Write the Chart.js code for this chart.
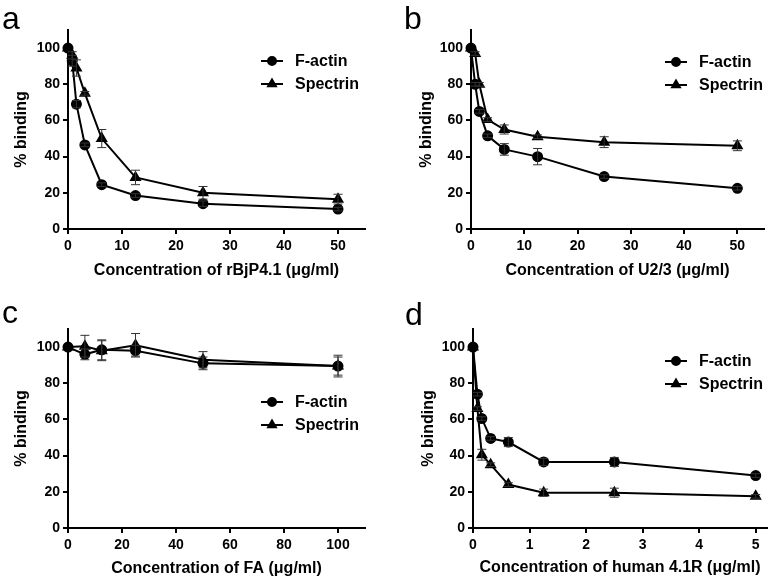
<!DOCTYPE html>
<html>
<head>
<meta charset="utf-8">
<script src="https://cdn.jsdelivr.net/npm/chart.js@4/dist/chart.umd.min.js"></script>
<style>
  body { margin: 0; background: #fff; }
  #wrap { position: relative; width: 774px; height: 580px; font-family: Arial, "Liberation Sans", sans-serif; }
  .panel { position: absolute; width: 387px; height: 290px; }
  .lbl { position: absolute; font-size: 32px; line-height: 32px; color: #000; }
</style>
</head>
<body>
<div id="wrap">
  <div class="panel" style="left:0;top:0"><canvas id="ga" width="387" height="290"></canvas></div>
  <div class="panel" style="left:387px;top:0"><canvas id="gb" width="387" height="290"></canvas></div>
  <div class="panel" style="left:0;top:290px"><canvas id="gc" width="387" height="290"></canvas></div>
  <div class="panel" style="left:387px;top:290px"><canvas id="gd" width="387" height="290"></canvas></div>
  <div class="lbl" style="left:2px;top:2px">a</div>
  <div class="lbl" style="left:404px;top:2px">b</div>
  <div class="lbl" style="left:2px;top:296px">c</div>
  <div class="lbl" style="left:405px;top:298px">d</div>
</div>
<script>
// panel a - rBjP4.1
var concA = [0, 0.78, 1.56, 3.125, 6.25, 12.5, 25, 50];
var actinA = [100, 93, 69, 46.5, 24.5, 18.5, 14, 11];
var actinErrA = [0, 3, 2, 1, 1, 1, 1.5, 1];
var spectrinA = [100, 96, 89, 75, 50, 28.5, 20, 16.5];
var spectrinErrA = [0, 2, 4.5, 1, 5, 4, 3.5, 2.7];

// panel b - U2/3
var concB = [0, 0.78, 1.56, 3.125, 6.25, 12.5, 25, 50];
var actinB = [100, 80, 65, 51.5, 44, 40, 29, 22.5];
var actinErrB = [0, 1, 1, 1, 3.2, 4.5, 1, 1];
var spectrinB = [100, 97, 80, 60.5, 55, 51, 48, 46];
var spectrinErrB = [0, 1, 1, 1, 2.5, 1, 3, 2.7];

// panel c - FA
var concC = [0, 6.25, 12.5, 25, 50, 100];
var actinC = [100, 96, 98.5, 98, 91, 89.5];
var actinErrC = [0, 3, 5.5, 3, 3.5, 5];
var spectrinC = [100, 100.5, 98, 101, 93, 89.5];
var spectrinErrC = [0, 6, 5.5, 6.5, 4.5, 6];

// panel d - human 4.1R
var concD = [0, 0.078, 0.156, 0.3125, 0.625, 1.25, 2.5, 5];
var actinD = [100, 74, 60.5, 49.5, 47.5, 36.5, 36.5, 29];
var actinErrD = [0, 1, 1, 1, 2.5, 2, 2.5, 1];
var spectrinD = [100, 66, 40.5, 35, 24, 19.5, 19.5, 17.5];
var spectrinErrD = [0, 1, 3, 1, 1, 2, 2.5, 1];

var yTicks = [0, 20, 40, 60, 80, 100];

var FONT = 'Arial, "Liberation Sans", sans-serif';

function pts(xs, ys) {
    return xs.map(function (x, i) { return {x: x, y: ys[i]}; });
}

// error bars, drawn through the y scale
var errorBars = {
    id: 'errorBars',
    afterDatasetsDraw: function (chart) {
        var ctx = chart.ctx;
        var ys = chart.scales.y;
        ctx.save();
        ctx.strokeStyle = '#333';
        ctx.lineWidth = 1;
        chart.data.datasets.forEach(function (ds, di) {
            if (!ds.errors) return;
            var meta = chart.getDatasetMeta(di);
            meta.data.forEach(function (pt, i) {
                var e = ds.errors[i];
                if (!e) return;
                var v = ds.data[i].y;
                var top = ys.getPixelForValue(v + e);
                var bot = ys.getPixelForValue(v - e);
                ctx.beginPath();
                ctx.moveTo(pt.x, top); ctx.lineTo(pt.x, bot);
                ctx.moveTo(pt.x - 4.5, top); ctx.lineTo(pt.x + 4.5, top);
                ctx.moveTo(pt.x - 4.5, bot); ctx.lineTo(pt.x + 4.5, bot);
                ctx.stroke();
            });
        });
        ctx.restore();
    }
};

// legend inside the plot
var innerLegend = {
    id: 'innerLegend',
    afterDraw: function (chart, args, opts) {
        var ctx = chart.ctx;
        ctx.save();
        chart.data.datasets.forEach(function (ds, i) {
            var cx = opts.x + 11, cy = opts.y + i * opts.gap;
            ctx.strokeStyle = '#000';
            ctx.lineWidth = 2;
            ctx.beginPath();
            ctx.moveTo(opts.x, cy); ctx.lineTo(opts.x + 22, cy);
            ctx.stroke();
            ctx.fillStyle = '#000';
            Chart.helpers.drawPoint(ctx, {pointStyle: ds.pointStyle, radius: ds.pointRadius - 0.5, rotation: 0, borderWidth: 1}, cx, cy);
            ctx.fill();
            ctx.font = 'bold 16px ' + FONT;
            ctx.textBaseline = 'middle';
            ctx.fillText(ds.label, opts.x + 34, cy + 1);
        });
        ctx.restore();
    }
};

function makeChart(id, xs, a, aErr, s, sErr, cfg) {
    var ctx = document.getElementById(id).getContext('2d');
    return new Chart(ctx, {
        type: 'line',
        data: {
            datasets: [{
                label: 'F-actin',
                data: pts(xs, a),
                errors: aErr,
                borderColor: '#000',
                backgroundColor: '#000',
                borderWidth: 2,
                pointStyle: 'circle',
                pointRadius: 4.5,
                tension: 0,
                clip: false
            }, {
                label: 'Spectrin',
                data: pts(xs, s),
                errors: sErr,
                borderColor: '#000',
                backgroundColor: '#000',
                borderWidth: 2,
                pointStyle: 'triangle',
                pointRadius: 5,
                tension: 0,
                clip: false
            }]
        },
        options: {
            responsive: false,
            animation: false,
            layout: {padding: {left: 0, top: cfg.top, right: cfg.right, bottom: 0}},
            plugins: {
                legend: {display: false},
                tooltip: {enabled: false},
                innerLegend: cfg.legend
            },
            scales: {
                x: {
                    type: 'linear',
                    min: 0,
                    max: cfg.xMax,
                    afterFit: function (sc) { sc.height = cfg.bottom; },
                    border: {color: '#000', width: 2},
                    grid: {drawOnChartArea: false, color: '#000', lineWidth: 2, tickLength: 5},
                    ticks: {
                        stepSize: cfg.xStep,
                        includeBounds: false,
                        color: '#000',
                        padding: 4,
                        maxRotation: 0,
                        font: {family: FONT, size: 14, weight: 'bold'}
                    },
                    title: {
                        display: true,
                        text: cfg.xTitle,
                        color: '#000',
                        padding: {top: 0, bottom: cfg.xTitlePad},
                        font: {family: FONT, size: 16, weight: 'bold'}
                    }
                },
                y: {
                    min: 0,
                    max: 110,
                    afterFit: function (sc) { sc.width = cfg.left; },
                    afterBuildTicks: function (sc) { sc.ticks = yTicks.map(function (v) { return {value: v}; }); },
                    border: {color: '#000', width: 2},
                    grid: {drawOnChartArea: false, color: '#000', lineWidth: 2, tickLength: 5},
                    ticks: {
                        color: '#000',
                        padding: 3,
                        font: {family: FONT, size: 14, weight: 'bold'}
                    },
                    title: {
                        display: true,
                        text: '% binding',
                        color: '#000',
                        padding: {top: cfg.yTitlePad, bottom: 0},
                        font: {family: FONT, size: 16, weight: 'bold'}
                    }
                }
            }
        },
        plugins: [errorBars, innerLegend]
    });
}

makeChart('ga', concA, actinA, actinErrA, spectrinA, spectrinErrA, {
    left: 68, right: 22, top: 30, bottom: 61, xMax: 55, xStep: 10,
    xTitle: 'Concentration of rBjP4.1 (\u03bcg/ml)', xTitlePad: 10, yTitlePad: 12,
    legend: {x: 261, y: 61, gap: 23}
});
makeChart('gb', concB, actinB, actinErrB, spectrinB, spectrinErrB, {
    left: 84, right: 10, top: 30, bottom: 61, xMax: 55, xStep: 10,
    xTitle: 'Concentration of U2/3 (\u03bcg/ml)', xTitlePad: 10, yTitlePad: 30,
    legend: {x: 278, y: 62, gap: 23}
});
makeChart('gc', concC, actinC, actinErrC, spectrinC, spectrinErrC, {
    left: 68, right: 22, top: 39, bottom: 52, xMax: 110, xStep: 20,
    xTitle: 'Concentration of FA (\u03bcg/ml)', xTitlePad: 2, yTitlePad: 12,
    legend: {x: 261, y: 112, gap: 23}
});
makeChart('gd', concD, actinD, actinErrD, spectrinD, spectrinErrD, {
    left: 86, right: 4, top: 39, bottom: 52, xMax: 5.2, xStep: 1,
    xTitle: 'Concentration of human 4.1R (\u03bcg/ml)', xTitlePad: 3, yTitlePad: 32,
    legend: {x: 278, y: 71, gap: 23}
});
</script>
</body>
</html>
